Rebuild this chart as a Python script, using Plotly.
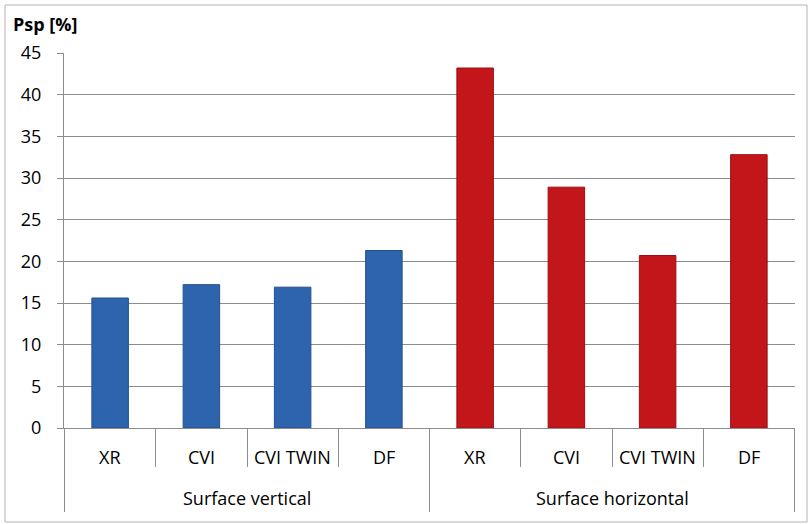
import plotly.graph_objects as go

groups = ["Surface vertical", "Surface horizontal"]
methods = ["XR", "CVI", "CVI TWIN", "DF"]
vertical_values = [15.6, 17.2, 16.9, 21.3]
horizontal_values = [43.2, 28.9, 20.7, 32.8]
y_ticks = [0, 5, 10, 15, 20, 25, 30, 35, 40, 45]

FONT = "Open Sans"
GRID = "#8c8c8c"
LABEL_SIZE = 18

fig = go.Figure()
fig.add_trace(go.Bar(
    x=[[groups[0]] * len(methods), methods],
    y=vertical_values,
    width=0.4,
    marker=dict(color="#2e64ae", line=dict(color="#234f8c", width=1)),
    showlegend=False,
))
fig.add_trace(go.Bar(
    x=[[groups[1]] * len(methods), methods],
    y=horizontal_values,
    width=0.4,
    marker=dict(color="#c3161b", line=dict(color="#9a1014", width=1)),
    showlegend=False,
))

n = len(methods)
annotations = [dict(
    text="<b>Psp [%]</b>", xref="paper", yref="paper",
    x=-0.073, y=1.078, xanchor="left", yanchor="middle",
    showarrow=False, font=dict(family=FONT, size=18),
)]
shapes = [dict(
    type="rect", xref="paper", yref="paper",
    x0=-0.0807, x1=1.0164, y0=-0.2507, y1=1.128,
    line=dict(color="#b4b4b4", width=1), layer="below",
)]
for g, grp in enumerate(groups):
    for i, m in enumerate(methods):
        annotations.append(dict(
            text=m, xref="x", yref="paper", x=g * n + i, y=-0.0773,
            xanchor="center", yanchor="middle", showarrow=False,
            font=dict(family=FONT, size=LABEL_SIZE),
        ))
    annotations.append(dict(
        text=grp, xref="x", yref="paper", x=g * n + (n - 1) / 2, y=-0.1867,
        xanchor="center", yanchor="middle", showarrow=False,
        font=dict(family=FONT, size=LABEL_SIZE),
    ))
for g in range(len(groups) + 1):
    shapes.append(dict(
        type="line", xref="x", yref="paper",
        x0=g * n - 0.5, x1=g * n - 0.5, y0=0, y1=-0.224,
        line=dict(color=GRID, width=1),
    ))

fig.update_layout(
    width=812, height=524,
    margin=dict(l=64, r=17, t=53, b=96),
    paper_bgcolor="white", plot_bgcolor="white",
    barmode="overlay",
    font=dict(family=FONT, size=18, color="#000000"),
    xaxis=dict(
        type="multicategory",
        showline=True, linecolor=GRID, linewidth=1,
        ticks="outside", tickson="boundaries", ticklen=38, tickcolor=GRID,
        showticklabels=False, showdividers=False,
        showgrid=False,
    ),
    yaxis=dict(
        range=[0, 45], tickvals=y_ticks,
        showgrid=True, gridcolor=GRID, gridwidth=1,
        showline=True, linecolor=GRID, linewidth=1,
        ticks="outside", ticklen=6, tickcolor=GRID,
        ticklabelstandoff=12,
        zeroline=False,
        tickfont=dict(family=FONT, size=18),
    ),
    shapes=shapes,
    annotations=annotations,
)

fig.write_html("out.html", config=dict(displayModeBar=False),
               post_script="document.body.style.margin='0';")
